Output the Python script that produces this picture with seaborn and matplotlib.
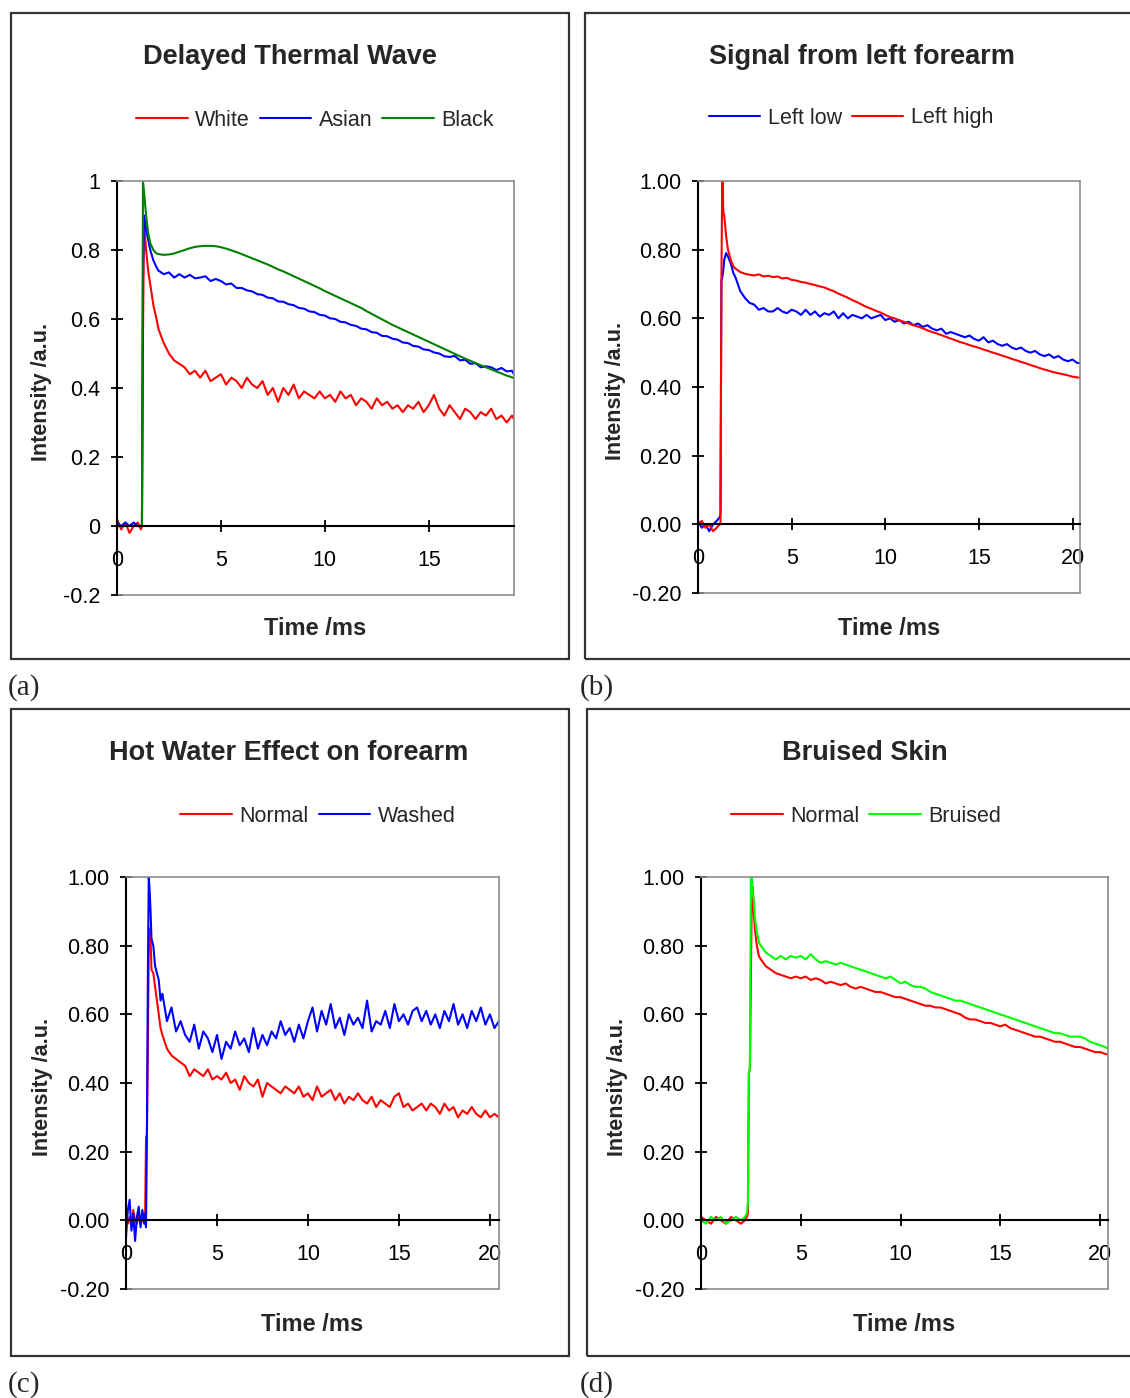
import matplotlib
matplotlib.use("Agg")
import matplotlib.pyplot as plt
from matplotlib.patches import Rectangle
import seaborn as sns

# ---------------- data ----------------
# Panel (a): Delayed Thermal Wave
A_TIME = [0.0, 0.2, 0.4, 0.6, 0.8, 1.0, 1.15, 1.2, 1.25, 1.3, 1.4, 1.5, 1.6, 1.75, 1.9,
          2.0, 2.25, 2.5, 2.75, 3.0, 3.25, 3.5, 3.75, 4.0, 4.25, 4.5, 4.75,
          5.0, 5.25, 5.5, 5.75, 6.0, 6.25, 6.5, 6.75, 7.0, 7.25, 7.5, 7.75,
          8.0, 8.25, 8.5, 8.75, 9.0, 9.25, 9.5, 9.75, 10.0, 10.25, 10.5, 10.75,
          11.0, 11.25, 11.5, 11.75, 12.0, 12.25, 12.5, 12.75, 13.0, 13.25, 13.5, 13.75,
          14.0, 14.25, 14.5, 14.75, 15.0, 15.25, 15.5, 15.75, 16.0, 16.25, 16.5, 16.75,
          17.0, 17.25, 17.5, 17.75, 18.0, 18.25, 18.5, 18.75, 19.0, 19.1]
A_WHITE = [0.02, -0.01, 0.01, -0.02, 0.00, 0.01, -0.01, 0.00, 0.55, 0.88, 0.80, 0.74, 0.70, 0.64, 0.60,
           0.57, 0.53, 0.50, 0.48, 0.47, 0.46, 0.44, 0.45, 0.43, 0.45, 0.42, 0.43,
           0.44, 0.41, 0.43, 0.42, 0.40, 0.43, 0.41, 0.40, 0.42, 0.38, 0.40, 0.36,
           0.40, 0.38, 0.41, 0.37, 0.39, 0.38, 0.37, 0.39, 0.37, 0.38, 0.36, 0.39,
           0.37, 0.38, 0.35, 0.37, 0.36, 0.34, 0.37, 0.35, 0.36, 0.34, 0.35, 0.33,
           0.35, 0.34, 0.36, 0.33, 0.35, 0.38, 0.34, 0.32, 0.35, 0.33, 0.31, 0.34,
           0.33, 0.31, 0.33, 0.32, 0.34, 0.31, 0.32, 0.30, 0.32, 0.31]
A_ASIAN = [0.01, 0.00, 0.01, 0.00, 0.01, 0.00, 0.00, 0.00, 0.72, 0.90, 0.86, 0.83, 0.80, 0.77, 0.75,
           0.74, 0.73, 0.735, 0.72, 0.73, 0.72, 0.728, 0.718, 0.72, 0.724, 0.71, 0.716,
           0.71, 0.70, 0.703, 0.69, 0.69, 0.683, 0.68, 0.672, 0.67, 0.662, 0.66, 0.651,
           0.65, 0.643, 0.64, 0.632, 0.63, 0.622, 0.62, 0.612, 0.61, 0.602, 0.60, 0.592,
           0.59, 0.583, 0.58, 0.572, 0.57, 0.562, 0.56, 0.551, 0.55, 0.543, 0.54, 0.532,
           0.53, 0.522, 0.52, 0.512, 0.51, 0.503, 0.50, 0.492, 0.49, 0.493, 0.48, 0.482,
           0.47, 0.472, 0.46, 0.463, 0.46, 0.452, 0.458, 0.448, 0.45, 0.44]
A_BLACK = [0.00, 0.00, 0.00, 0.00, 0.00, 0.00, 0.00, 0.00, 1.00, 0.97, 0.90, 0.85, 0.82, 0.80, 0.79,
           0.788, 0.786, 0.787, 0.790, 0.795, 0.800, 0.805, 0.809, 0.811, 0.812, 0.812, 0.811,
           0.808, 0.804, 0.799, 0.794, 0.788, 0.782, 0.776, 0.770, 0.764, 0.758, 0.751, 0.744,
           0.738, 0.731, 0.724, 0.717, 0.710, 0.703, 0.696, 0.689, 0.681, 0.674, 0.667, 0.660,
           0.653, 0.646, 0.639, 0.632, 0.623, 0.615, 0.607, 0.599, 0.591, 0.583, 0.576, 0.569,
           0.562, 0.555, 0.548, 0.541, 0.534, 0.527, 0.520, 0.513, 0.506, 0.499, 0.492, 0.485,
           0.479, 0.472, 0.466, 0.460, 0.454, 0.448, 0.442, 0.436, 0.431, 0.428]

# Panel (b): Signal from left forearm
B_TIME = [0.0, 0.2, 0.4, 0.6, 0.8, 1.0, 1.15, 1.2, 1.25, 1.3, 1.35, 1.4, 1.5, 1.6, 1.75, 1.9,
          2.0, 2.25, 2.5, 2.75, 3.0, 3.25, 3.5, 3.75, 4.0, 4.25, 4.5, 4.75,
          5.0, 5.25, 5.5, 5.75, 6.0, 6.25, 6.5, 6.75, 7.0, 7.25, 7.5, 7.75,
          8.0, 8.25, 8.5, 8.75, 9.0, 9.25, 9.5, 9.75, 10.0, 10.25, 10.5, 10.75,
          11.0, 11.25, 11.5, 11.75, 12.0, 12.25, 12.5, 12.75, 13.0, 13.25, 13.5, 13.75,
          14.0, 14.25, 14.5, 14.75, 15.0, 15.25, 15.5, 15.75, 16.0, 16.25, 16.5, 16.75,
          17.0, 17.25, 17.5, 17.75, 18.0, 18.25, 18.5, 18.75, 19.0, 19.25, 19.5, 19.75,
          20.0, 20.25, 20.4]
B_LOW = [0.01, -0.01, 0.00, -0.02, 0.00, 0.01, 0.02, 0.03, 0.71, 0.72, 0.74, 0.77, 0.79, 0.78, 0.76, 0.73,
         0.72, 0.68, 0.66, 0.645, 0.64, 0.625, 0.63, 0.62, 0.62, 0.63, 0.62, 0.615,
         0.625, 0.62, 0.61, 0.625, 0.61, 0.62, 0.605, 0.615, 0.61, 0.62, 0.60, 0.615,
         0.60, 0.61, 0.605, 0.60, 0.61, 0.60, 0.605, 0.61, 0.595, 0.60, 0.59, 0.595,
         0.585, 0.59, 0.58, 0.585, 0.575, 0.58, 0.57, 0.565, 0.57, 0.555, 0.56, 0.555,
         0.55, 0.545, 0.55, 0.54, 0.535, 0.545, 0.53, 0.535, 0.525, 0.52, 0.525, 0.515,
         0.51, 0.515, 0.505, 0.50, 0.505, 0.495, 0.49, 0.495, 0.485, 0.49, 0.48, 0.475,
         0.48, 0.47, 0.47]
B_HIGH = [0.00, 0.01, -0.01, 0.00, -0.02, -0.01, 0.00, 0.00, 0.71, 1.05, 0.91, 0.90, 0.84, 0.80, 0.77, 0.75,
          0.745, 0.735, 0.730, 0.727, 0.725, 0.728, 0.722, 0.724, 0.720, 0.722, 0.716, 0.718,
          0.712, 0.710, 0.706, 0.704, 0.700, 0.697, 0.693, 0.690, 0.684, 0.679, 0.672, 0.666,
          0.660, 0.653, 0.647, 0.640, 0.633, 0.628, 0.622, 0.617, 0.610, 0.604, 0.600, 0.594,
          0.590, 0.585, 0.580, 0.576, 0.571, 0.565, 0.560, 0.556, 0.551, 0.546, 0.541, 0.536,
          0.531, 0.527, 0.522, 0.518, 0.514, 0.509, 0.505, 0.500, 0.496, 0.491, 0.487, 0.482,
          0.478, 0.473, 0.469, 0.464, 0.460, 0.455, 0.451, 0.447, 0.443, 0.440, 0.437, 0.434,
          0.430, 0.428, 0.427]

# Panel (c): Hot Water Effect on forearm
C_TIME = [0.0, 0.1, 0.2, 0.3, 0.4, 0.5, 0.6, 0.7, 0.8, 0.9, 1.0, 1.05, 1.1, 1.15, 1.2, 1.25,
          1.3, 1.35, 1.4, 1.5, 1.6, 1.7, 1.8, 1.9,
          2.0, 2.25, 2.5, 2.75, 3.0, 3.25, 3.5, 3.75, 4.0, 4.25, 4.5, 4.75,
          5.0, 5.25, 5.5, 5.75, 6.0, 6.25, 6.5, 6.75, 7.0, 7.25, 7.5, 7.75,
          8.0, 8.25, 8.5, 8.75, 9.0, 9.25, 9.5, 9.75, 10.0, 10.25, 10.5, 10.75,
          11.0, 11.25, 11.5, 11.75, 12.0, 12.25, 12.5, 12.75, 13.0, 13.25, 13.5, 13.75,
          14.0, 14.25, 14.5, 14.75, 15.0, 15.25, 15.5, 15.75, 16.0, 16.25, 16.5, 16.75,
          17.0, 17.25, 17.5, 17.75, 18.0, 18.25, 18.5, 18.75, 19.0, 19.25, 19.5, 19.75,
          20.0, 20.25, 20.5]
C_NORMAL = [0.02, -0.01, 0.01, -0.02, 0.03, 0.00, -0.01, 0.02, -0.01, 0.00, 0.01, 0.00, 0.24, 0.25,
            0.50, 0.80, 0.85, 0.82, 0.73, 0.72, 0.68, 0.64, 0.60, 0.56,
            0.54, 0.50, 0.48, 0.47, 0.46, 0.45, 0.42, 0.44, 0.43, 0.42, 0.44, 0.41,
            0.42, 0.41, 0.43, 0.40, 0.41, 0.38, 0.42, 0.40, 0.39, 0.41, 0.36, 0.40,
            0.39, 0.38, 0.37, 0.39, 0.38, 0.37, 0.39, 0.36, 0.37, 0.35, 0.39, 0.36,
            0.37, 0.38, 0.35, 0.37, 0.34, 0.36, 0.35, 0.37, 0.35, 0.34, 0.36, 0.33,
            0.35, 0.34, 0.33, 0.36, 0.37, 0.33, 0.34, 0.32, 0.33, 0.34, 0.32, 0.34,
            0.33, 0.31, 0.34, 0.32, 0.33, 0.30, 0.32, 0.31, 0.33, 0.31, 0.30, 0.32,
            0.30, 0.31, 0.30]
C_WASHED = [-0.05, 0.03, 0.06, -0.03, 0.02, -0.06, 0.01, 0.04, -0.02, 0.03, -0.01, 0.02, -0.02, 0.25,
            0.70, 1.00, 0.96, 0.90, 0.82, 0.80, 0.74, 0.72, 0.70, 0.64,
            0.66, 0.58, 0.62, 0.55, 0.58, 0.54, 0.52, 0.57, 0.50, 0.55, 0.53, 0.49,
            0.54, 0.47, 0.52, 0.50, 0.55, 0.51, 0.53, 0.49, 0.56, 0.50, 0.54, 0.51,
            0.55, 0.53, 0.58, 0.54, 0.56, 0.52, 0.57, 0.53, 0.58, 0.62, 0.55, 0.61,
            0.57, 0.63, 0.56, 0.59, 0.54, 0.60, 0.57, 0.59, 0.56, 0.64, 0.55, 0.58,
            0.57, 0.61, 0.56, 0.63, 0.58, 0.60, 0.57, 0.61, 0.62, 0.58, 0.61, 0.57,
            0.60, 0.56, 0.61, 0.58, 0.63, 0.57, 0.60, 0.56, 0.61, 0.58, 0.62, 0.57,
            0.60, 0.56, 0.58]

# Panel (d): Bruised Skin
D_TIME = [0.0, 0.25, 0.5, 0.75, 1.0, 1.25, 1.5, 1.75, 2.0, 2.2, 2.3, 2.35, 2.4, 2.45, 2.5,
          2.55, 2.6, 2.65, 2.7, 2.8, 2.9,
          3.0, 3.25, 3.5, 3.75, 4.0, 4.25, 4.5, 4.75,
          5.0, 5.25, 5.5, 5.75, 6.0, 6.25, 6.5, 6.75, 7.0, 7.25, 7.5, 7.75,
          8.0, 8.25, 8.5, 8.75, 9.0, 9.25, 9.5, 9.75, 10.0, 10.25, 10.5, 10.75,
          11.0, 11.25, 11.5, 11.75, 12.0, 12.25, 12.5, 12.75, 13.0, 13.25, 13.5, 13.75,
          14.0, 14.25, 14.5, 14.75, 15.0, 15.25, 15.5, 15.75, 16.0, 16.25, 16.5, 16.75,
          17.0, 17.25, 17.5, 17.75, 18.0, 18.25, 18.5, 18.75, 19.0, 19.25, 19.5, 19.75,
          20.0, 20.25, 20.4]
D_NORMAL = [0.01, 0.00, -0.01, 0.01, 0.00, -0.01, 0.01, 0.00, -0.01, 0.00, 0.01, 0.02, 0.43, 0.44,
            0.70, 0.97, 0.97, 0.89, 0.85, 0.80, 0.77,
            0.76, 0.74, 0.73, 0.72, 0.715, 0.71, 0.705, 0.71,
            0.705, 0.71, 0.70, 0.705, 0.70, 0.69, 0.695, 0.69, 0.685, 0.69, 0.68, 0.675,
            0.68, 0.675, 0.67, 0.665, 0.665, 0.66, 0.655, 0.65, 0.65, 0.645, 0.64, 0.635,
            0.63, 0.625, 0.625, 0.62, 0.62, 0.615, 0.61, 0.605, 0.60, 0.59, 0.585, 0.585,
            0.58, 0.575, 0.575, 0.57, 0.565, 0.57, 0.56, 0.555, 0.55, 0.545, 0.54, 0.535,
            0.535, 0.53, 0.525, 0.52, 0.52, 0.515, 0.51, 0.505, 0.505, 0.50, 0.495, 0.49,
            0.49, 0.485, 0.483]
D_BRUISED = [0.00, -0.01, 0.01, 0.00, 0.01, -0.01, 0.00, 0.01, 0.00, 0.01, 0.02, 0.05, 0.43, 0.44,
             1.00, 1.00, 0.95, 0.93, 0.88, 0.84, 0.81,
             0.80, 0.78, 0.77, 0.76, 0.77, 0.76, 0.77, 0.765,
             0.77, 0.76, 0.775, 0.76, 0.75, 0.755, 0.75, 0.745, 0.75, 0.745, 0.74, 0.735,
             0.73, 0.725, 0.72, 0.715, 0.71, 0.705, 0.71, 0.70, 0.69, 0.695, 0.685, 0.68,
             0.68, 0.675, 0.665, 0.66, 0.655, 0.65, 0.645, 0.64, 0.64, 0.635, 0.63, 0.625,
             0.62, 0.615, 0.61, 0.605, 0.60, 0.595, 0.59, 0.585, 0.58, 0.575, 0.57, 0.565,
             0.56, 0.555, 0.55, 0.545, 0.545, 0.54, 0.535, 0.535, 0.535, 0.53, 0.52, 0.515,
             0.51, 0.505, 0.50]

Y_TICKS = [-0.2, 0.0, 0.2, 0.4, 0.6, 0.8, 1.0]
Y_LABELS_A = ["-0.2", "0", "0.2", "0.4", "0.6", "0.8", "1"]
Y_LABELS_2 = ["-0.20", "0.00", "0.20", "0.40", "0.60", "0.80", "1.00"]

# ---------------- style ----------------
sns.set_style("white")
plt.rcParams["font.family"] = ["Liberation Sans", "DejaVu Sans"]

W, H = 1130, 1398
fig = plt.figure(figsize=(W / 100, H / 100), dpi=100)
fig.patch.set_facecolor("white")

GREY = "#8c8c8c"


def fx(px):
    return px / W


def fy(py):
    return 1 - py / H


def make_axes(left, right, top, bottom):
    return fig.add_axes([fx(left), fy(bottom), (right - left) / W, (bottom - top) / H])


def style(ax, xmax, xticks, ylabels, ylab_x, xlab_y):
    ax.set_xlim(0, xmax)
    ax.set_ylim(-0.2, 1.0)
    ax.set_facecolor("white")
    for s in ["top", "right"]:
        ax.spines[s].set_visible(True)
        ax.spines[s].set_color(GREY)
        ax.spines[s].set_linewidth(1.2)
    ax.spines["left"].set_color("black")
    ax.spines["left"].set_linewidth(1.5)
    ax.spines["bottom"].set_position(("data", 0))
    ax.spines["bottom"].set_color("black")
    ax.spines["bottom"].set_linewidth(1.5)
    ax.plot([0, 1], [0, 0], transform=ax.transAxes, color=GREY, lw=1.2, clip_on=False)
    ax.set_xticks(xticks)
    ax.set_xticklabels([str(t) for t in xticks])
    ax.set_yticks(Y_TICKS)
    ax.set_yticklabels(ylabels)
    ax.tick_params(axis="both", direction="inout", length=8, width=1.3, colors="black",
                   labelsize=15.5, bottom=True, left=True)
    ax.tick_params(axis="x", pad=13)
    ax.tick_params(axis="y", pad=8)
    ax.set_xlabel("Time /ms", fontsize=17, fontweight="bold")
    ax.set_ylabel("Intensity /a.u.", fontsize=15.5, fontweight="bold")
    ax.xaxis.set_label_coords(0.5, xlab_y)
    ax.xaxis.label.set_va("center")
    ax.yaxis.set_label_coords(ylab_x, 0.49)
    ax.yaxis.label.set_va("center")


def draw(ax, t, series):
    for vals, col, lab in series:
        sns.lineplot(x=t, y=vals, ax=ax, color=col, lw=1.5, label=lab,
                     sort=False, estimator=None, legend=False)


def legend(ax, cx, cy, ncol):
    handles, labels = ax.get_legend_handles_labels()
    fig.legend(handles, labels, loc="center", bbox_to_anchor=(fx(cx), fy(cy)),
               bbox_transform=fig.transFigure, ncol=ncol, frameon=False, fontsize=15.5,
               handlelength=2.4, handletextpad=0.35, columnspacing=0.45,
               borderaxespad=0, borderpad=0)


# outer frames
for (l, t, r, b) in [(11, 13, 569, 659), (585, 13, 1134, 659),
                     (11, 709, 569, 1356), (587, 709, 1134, 1356)]:
    fig.patches.append(Rectangle((fx(l), fy(b)), (r - l) / W, (b - t) / H,
                                 transform=fig.transFigure, fill=False,
                                 edgecolor="#333333", lw=1.6))

TITLE_FS = 19.5

# (a)
axA = make_axes(117, 514, 181, 595)
draw(axA, A_TIME, [(A_WHITE, "#ff0000", "White"), (A_ASIAN, "#0000ff", "Asian"),
                   (A_BLACK, "#008000", "Black")])
style(axA, 19.1, [0, 5, 10, 15], Y_LABELS_A, -0.189, -0.082)
fig.text(fx(290), fy(57), "Delayed Thermal Wave", ha="center", va="center",
         fontsize=TITLE_FS, fontweight="bold")
legend(axA, 315, 120, 3)

# (b)
axB = make_axes(698, 1080, 181, 593)
draw(axB, B_TIME, [(B_LOW, "#0000ff", "Left low"), (B_HIGH, "#ff0000", "Left high")])
style(axB, 20.4, [0, 5, 10, 15, 20], Y_LABELS_2, -0.217, -0.087)
fig.text(fx(862), fy(57), "Signal from left forearm", ha="center", va="center",
         fontsize=TITLE_FS, fontweight="bold")
legend(axB, 851, 118, 2)

# (c)
axC = make_axes(126, 499, 877, 1289)
draw(axC, C_TIME, [(C_NORMAL, "#ff0000", "Normal"), (C_WASHED, "#0000ff", "Washed")])
style(axC, 20.5, [0, 5, 10, 15, 20], Y_LABELS_2, -0.225, -0.087)
fig.text(fx(289), fy(753), "Hot Water Effect on forearm", ha="center", va="center",
         fontsize=TITLE_FS, fontweight="bold")
legend(axC, 318, 816, 2)

# (d)
axD = make_axes(701, 1108, 877, 1289)
draw(axD, D_TIME, [(D_NORMAL, "#ff0000", "Normal"), (D_BRUISED, "#00ff00", "Bruised")])
style(axD, 20.4, [0, 5, 10, 15, 20], Y_LABELS_2, -0.204, -0.087)
fig.text(fx(865), fy(753), "Bruised Skin", ha="center", va="center",
         fontsize=TITLE_FS, fontweight="bold")
legend(axD, 866, 816, 2)

# panel letters
for lab, x, y in [("(a)", 8, 688), ("(b)", 580, 688), ("(c)", 8, 1385), ("(d)", 580, 1385)]:
    fig.text(fx(x), fy(y), lab, ha="left", va="center", fontsize=21,
             family=["Liberation Serif", "DejaVu Serif"])

fig.savefig("out.png", dpi=100, facecolor="white")
